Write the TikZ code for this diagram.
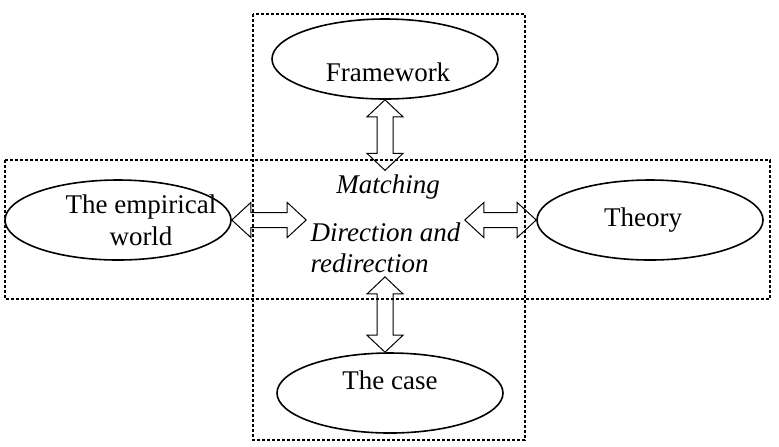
\documentclass[tikz,border=0pt]{standalone}
\usepackage{fontspec}
\setmainfont{Liberation Serif}
\usetikzlibrary{calc,shapes.geometric}
\tikzset{
  oval/.style={ellipse,draw,line width=0.8pt,minimum width=113pt,minimum height=40pt,inner sep=0pt},
  word/.style={font=\fontsize{13.5}{16}\selectfont,align=center},
  say/.style={font=\fontsize{13.5}{15.5}\selectfont\itshape,inner sep=2pt},
  frame/.style={draw,line width=0.6pt,dash pattern=on 1.5pt off 1pt},
  hollow/.style={draw,line width=0.5pt},
}
% hollow two-headed arrows between two points
\newcommand\vhollow[2]{%
  \draw[hollow] let \p1=(#1), \p2=(#2) in
    (\x1,\y1) -- (\x1+9pt,\y1-8.5pt) -- (\x1+4pt,\y1-8.5pt) -- (\x1+4pt,\y2+8.5pt)
    -- (\x1+9pt,\y2+8.5pt) -- (\x1,\y2) -- (\x1-9pt,\y2+8.5pt) -- (\x1-4pt,\y2+8.5pt)
    -- (\x1-4pt,\y1-8.5pt) -- (\x1-9pt,\y1-8.5pt) -- cycle;}
\newcommand\hhollow[2]{%
  \draw[hollow] let \p1=(#1), \p2=(#2) in
    (\x1,\y1) -- (\x1+9.5pt,\y1+8.75pt) -- (\x1+9.5pt,\y1+3.75pt) -- (\x2-9.5pt,\y1+3.75pt)
    -- (\x2-9.5pt,\y1+8.75pt) -- (\x2,\y1) -- (\x2-9.5pt,\y1-8.75pt) -- (\x2-9.5pt,\y1-3.75pt)
    -- (\x1+9.5pt,\y1-3.75pt) -- (\x1+9.5pt,\y1-8.75pt) -- cycle;}
\begin{document}
\begin{tikzpicture}[x=0.5pt,y=-0.5pt]
  \useasboundingbox (0,0) rectangle (779,446);
  % the two dashed bands
  \draw[frame] (253,14) rectangle (525,440);
  \draw[frame] (5,160) rectangle (770,299);
  % the four ellipses
  \node[oval,label={[word,xshift=1.5pt,yshift=-6.5pt]center:Framework}] (fw) at (385,59) {};
  \node[oval,label={[word,xshift=11.5pt]center:The empirical\\world}] (emp) at (118,220) {};
  \node[oval,label={[word,xshift=-3.5pt]center:Theory}] (thy) at (650,220) {};
  \node[oval,label={[word,yshift=6.5pt]center:The case}] (case) at (390,393) {};
  % middle texts
  \node[say] (match) at (388,187) {Matching};
  \node[say,align=left] (dir) at (385.5,247.5) {Direction and\\redirection};
  % arrows
  \vhollow{fw.south}{match.north}
  \vhollow{fw.south |- dir.south}{fw.south |- case.north}
  \hhollow{emp.east}{emp.east -| dir.west}
  \hhollow{thy.west -| dir.east}{thy.west}
\end{tikzpicture}
\end{document}
